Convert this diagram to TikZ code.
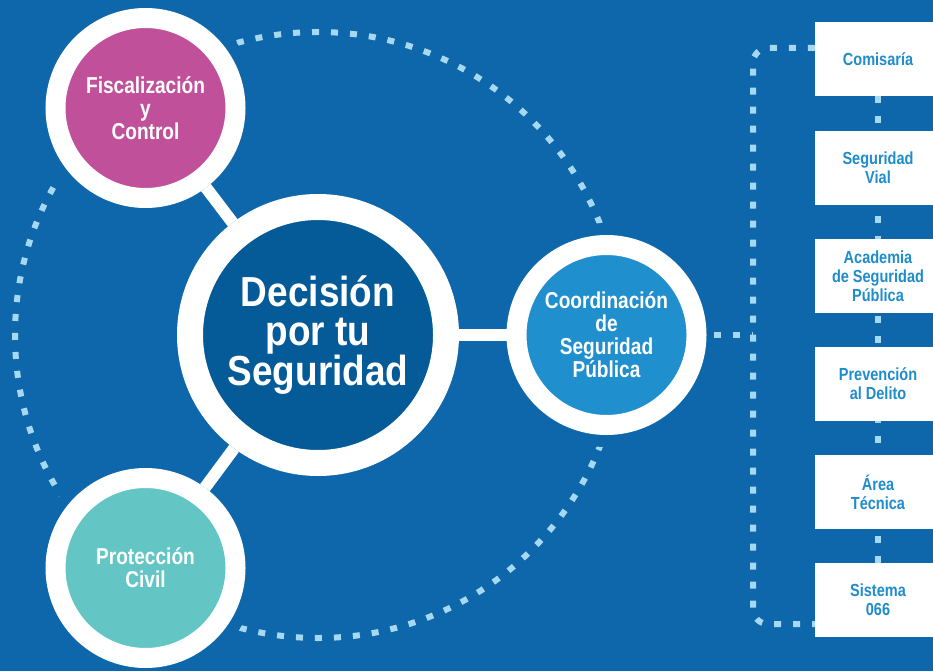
\documentclass[tikz,border=0pt]{standalone}
\usepackage{fontspec}
\setmainfont{Liberation Sans}
\newfontfamily\cond{Liberation Sans}[FakeStretch=0.83]
\newfontfamily\condg{Liberation Sans}[FakeStretch=0.88]
\usetikzlibrary{calc,backgrounds}
\definecolor{fondo}{HTML}{0D67AA}
\definecolor{centro}{HTML}{045B97}
\definecolor{fiscal}{HTML}{C1509B}
\definecolor{civil}{HTML}{64C5C5}
\definecolor{coordina}{HTML}{1F8FCE}
\definecolor{punto}{HTML}{A6D9F1}
\definecolor{letra}{HTML}{1F8CCC}

\begin{document}
\begin{tikzpicture}[x=1pt, y=-1pt,
    anillo/.style={circle, draw=white, inner sep=0pt, align=center, text=white},
    chico/.style={anillo, line width=20pt, minimum size=180pt,
        preaction={draw=fondo, line width=44pt},
        font=\cond\bfseries\fontsize{23}{23}\selectfont},
    caja/.style={rectangle, fill=white, minimum width=126pt, minimum height=74pt,
        inner sep=0pt, align=center, text=letra,
        font=\cond\bfseries\fontsize{17.5}{19}\selectfont},
    puntos/.style={draw=punto, line width=6pt, dash pattern=on 7pt off 12pt},
    enlace/.style={white, line width=12pt}]
    \useasboundingbox (0,0) rectangle (933,671);

    % circulos
    \node[anillo, line width=26pt, minimum size=256pt, fill=centro,
        font=\condg\bfseries\fontsize{42}{38.5}\selectfont] (dec) at (318,335) {Decisión\\por tu\\Seguridad};
    \node[chico, fill=fiscal] (fisc) at (145.5,108) {Fiscalización\\y\\Control};
    \node[chico, fill=civil] (civ) at (145.5,568) {Protección\\Civil};
    \node[chico, fill=coordina] (coord) at (606.5,335) {Coordinación\\de\\Seguridad\\Pública};

    \draw[enlace] (dec) -- (fisc);
    \draw[enlace] (dec) -- (civ);
    \draw[enlace] (dec) -- (coord);

    % cajas
    \node[caja] (caja1) at (878,59) {Comisaría};
    \node[caja] (caja2) at (878,168) {Seguridad\\Vial};
    \node[caja] (caja3) at (878,276) {Academia\\de Seguridad\\Pública};
    \node[caja] (caja4) at (878,384) {Prevención\\al Delito};
    \node[caja] (caja5) at (878,492) {Área\\Técnica};
    \node[caja] (caja6) at (878,600) {Sistema\\066};

    \coordinate (llave) at (753,335);
    \draw[puntos, shorten <=7pt] (coord) -- (llave);

    \begin{scope}[on background layer]
        \fill[fondo] (0,0) rectangle (933,671);
        \draw[puntos] (dec.center) circle (303pt);
        \draw[puntos, dash pattern=on 7pt off 13pt] (caja1) -- (caja6);
        \draw[puntos, rounded corners=15pt] ($(caja1.west)+(0,-11)$) -| (llave) |- ($(caja6.west)+(0,24)$);
    \end{scope}
\end{tikzpicture}
\end{document}
